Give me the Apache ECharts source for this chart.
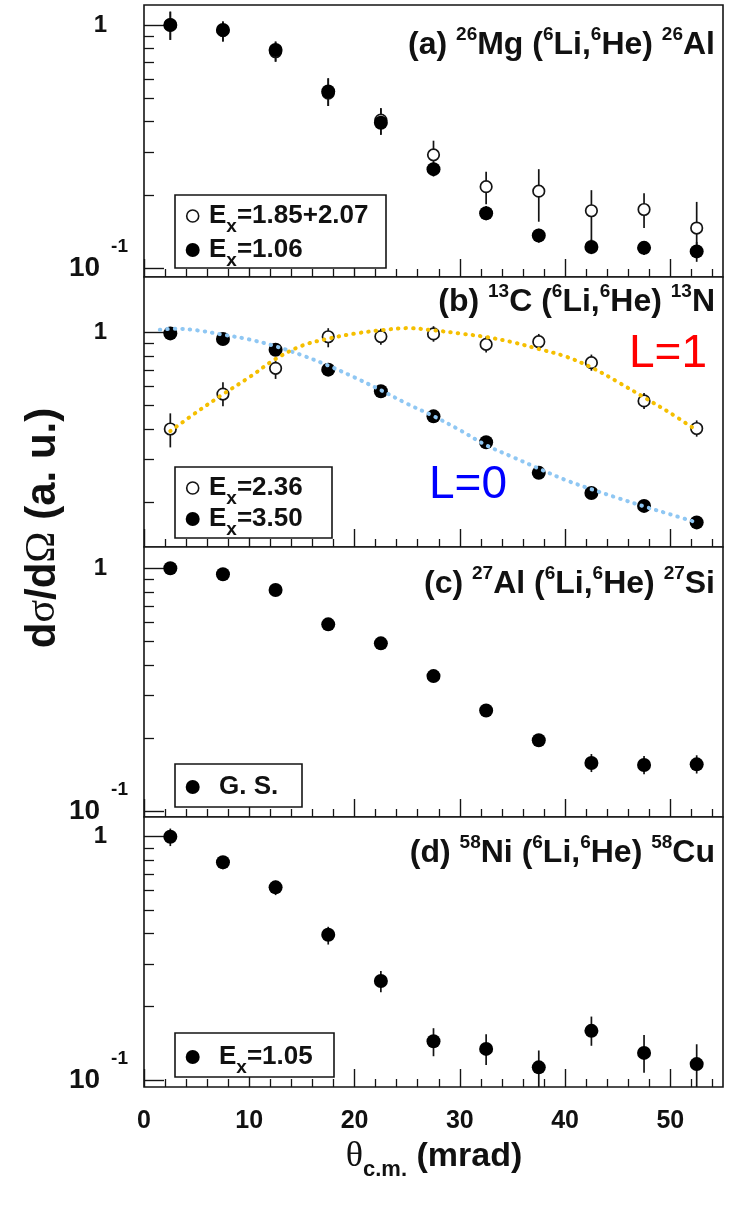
<!DOCTYPE html>
<html>
<head>
<meta charset="utf-8">
<script src="https://cdn.jsdelivr.net/npm/echarts@6/dist/echarts.min.js"></script>
<style>
  html, body { margin: 0; padding: 0; background: #fff; }
  #chart { width: 729px; height: 1206px; }
</style>
</head>
<body>
<div id="chart"></div>
<script>
// Scattering angle of each measured point (mrad)
const theta = [2.5, 7.5, 12.5, 17.5, 22.5, 27.5, 32.5, 37.5, 42.5, 47.5, 52.5];

// (a) 26Mg(6Li,6He)26Al
const mgEx106 = [1.0, 0.954, 0.789, 0.532, 0.396, 0.255, 0.168, 0.136, 0.122, 0.121, 0.117];
const mgEx106Lo = [0.868, 0.854, 0.706, 0.464, 0.353, 0.238, 0.157, 0.127, 0.114, 0.113, 0.106];
const mgEx106Hi = [1.134, 1.032, 0.854, 0.603, 0.454, 0.272, 0.180, 0.145, 0.131, 0.129, 0.128];
const mgEx185 = [1.0, 0.947, 0.776, 0.524, 0.406, 0.292, 0.216, 0.207, 0.172, 0.174, 0.146];
const mgEx185Lo = [0.868, 0.854, 0.706, 0.464, 0.353, 0.257, 0.183, 0.155, 0.130, 0.146, 0.111];
const mgEx185Hi = [1.134, 1.032, 0.854, 0.603, 0.454, 0.334, 0.249, 0.255, 0.209, 0.203, 0.187];

// (b) 13C(6Li,6He)13N
const cEx236 = [0.400, 0.557, 0.711, 0.959, 0.961, 0.985, 0.892, 0.915, 0.750, 0.522, 0.402];
const cEx236Lo = [0.336, 0.496, 0.643, 0.868, 0.890, 0.915, 0.826, 0.850, 0.695, 0.484, 0.372];
const cEx236Hi = [0.464, 0.623, 0.764, 1.040, 1.035, 1.060, 0.962, 0.985, 0.810, 0.563, 0.434];
const cEx350 = [0.990, 0.939, 0.848, 0.702, 0.572, 0.451, 0.353, 0.264, 0.218, 0.193, 0.165];

// Angular-momentum transfer shapes drawn through panel (b): [theta, value]
const curveL0 = [[1.5, 1.025], [3, 1.035], [5, 1.02], [7.5, 0.978], [10, 0.935], [12.5, 0.876],
  [15, 0.805], [17.5, 0.73], [20, 0.652], [22.5, 0.578], [25, 0.508], [27.5, 0.452],
  [30, 0.396], [32.5, 0.343], [35, 0.307], [37.5, 0.275], [40, 0.247], [42.5, 0.226],
  [45, 0.208], [47.5, 0.192], [50, 0.178], [52.5, 0.165]];
const curveL1 = [[2.5, 0.392], [5, 0.469], [7.5, 0.556], [10, 0.653], [12.5, 0.777], [15, 0.881],
  [17.5, 0.942], [20, 0.988], [22.5, 1.02], [25, 1.041], [27.5, 1.02], [30, 0.989],
  [32.5, 0.957], [35, 0.911], [37.5, 0.854], [40, 0.797], [42.5, 0.717], [45, 0.625],
  [47.5, 0.54], [50, 0.465], [52.5, 0.395]];

// (c) 27Al(6Li,6He)27Si
const alGs = [1.0, 0.945, 0.814, 0.588, 0.491, 0.360, 0.260, 0.196, 0.158, 0.155, 0.156];
const alGsLo = [0.95, 0.90, 0.775, 0.56, 0.467, 0.342, 0.247, 0.186, 0.145, 0.142, 0.143];
const alGsHi = [1.05, 0.99, 0.855, 0.617, 0.515, 0.378, 0.273, 0.206, 0.172, 0.169, 0.170];

// (d) 58Ni(6Li,6He)58Cu
const niEx105 = [1.0, 0.785, 0.619, 0.395, 0.255, 0.144, 0.134, 0.1125, 0.159, 0.129, 0.116];
const niEx105Lo = [0.915, 0.735, 0.575, 0.360, 0.229, 0.125, 0.115, 0.093, 0.138, 0.107, 0.092];
const niEx105Hi = [1.08, 0.827, 0.659, 0.426, 0.280, 0.163, 0.154, 0.132, 0.182, 0.153, 0.140];

// Tick positions
const xMajorTicks = [0, 10, 20, 30, 40, 50];
const xMinorTicks = [2, 4, 6, 8, 12, 14, 16, 18, 22, 24, 26, 28, 32, 34, 36, 38, 42, 44, 46, 48, 52, 54];
const yMajorTicks = [0.1, 1];
const yMinorTicks = [0.2, 0.3, 0.4, 0.5, 0.6, 0.7, 0.8, 0.9];

const FONT = 'Liberation Sans';
const INK = '#141414';

// Panel frames (pixel layout) and log ranges
const panels = [
  { top: 5,   height: 272, range: [0.0918, 1.208] },
  { top: 277, height: 270, range: [0.1307, 1.69] },
  { top: 547, height: 270, range: [0.0947, 1.224] },
  { top: 817, height: 270, range: [0.0934, 1.205] }
];

const grids = [], xAxes = [], yAxes = [];
panels.forEach((p, i) => {
  const last = i === panels.length - 1;
  grids.push({
    left: 144, width: 579, top: p.top, height: p.height,
    show: true, borderColor: INK, borderWidth: 1.6, backgroundColor: '#fff'
  });
  xAxes.push({
    type: 'value', gridIndex: i, min: 0, max: 55, position: 'bottom',
    axisLine: { show: false }, splitLine: { show: false },
    axisTick: { show: true, inside: true, length: 18, customValues: xMajorTicks,
      lineStyle: { color: INK, width: 1.4 } },
    axisLabel: last ? {
      show: true, customValues: xMajorTicks, margin: 22,
      fontFamily: FONT, fontWeight: 'bold', fontSize: 25, color: '#111'
    } : { show: false }
  });
  xAxes.push({
    type: 'value', gridIndex: i, min: 0, max: 55, position: 'bottom',
    axisLine: { show: false }, splitLine: { show: false },
    axisTick: { show: true, inside: true, length: 8, customValues: xMinorTicks,
      lineStyle: { color: INK, width: 1.3 } },
    axisLabel: { show: false }
  });
  const majors = yMajorTicks.filter(v => v >= p.range[0] && v <= p.range[1]);
  yAxes.push({
    type: 'log', logBase: 10, gridIndex: i, min: p.range[0], max: p.range[1], position: 'left',
    axisLine: { show: false }, splitLine: { show: false },
    axisTick: { show: true, inside: true, length: 20, customValues: majors,
      lineStyle: { color: INK, width: 1.4 } },
    axisLabel: {
      show: true, customValues: majors, margin: 16,
      formatter: v => (v > 0.5 ? '{one|1}' : '{ten|10}{sup|-1}'),
      rich: {
        one: { fontFamily: FONT, fontWeight: 'bold', fontSize: 24, color: '#111', padding: [0, 21, 0, 0] },
        ten: { fontFamily: FONT, fontWeight: 'bold', fontSize: 28, color: '#111' },
        sup: { fontFamily: FONT, fontWeight: 'bold', fontSize: 19, lineHeight: 19, color: '#111', padding: [0, 0, 43, 11] }
      }
    }
  });
  yAxes.push({
    type: 'log', logBase: 10, gridIndex: i, min: p.range[0], max: p.range[1], position: 'left',
    axisLine: { show: false }, splitLine: { show: false },
    axisTick: { show: true, inside: true, length: 10, customValues: yMinorTicks,
      lineStyle: { color: INK, width: 1.3 } },
    axisLabel: { show: false }
  });
});

const pairs = (ys) => theta.map((x, k) => [x, ys[k]]);

function errorBars(panel, lo, hi) {
  return {
    type: 'custom', xAxisIndex: 2 * panel, yAxisIndex: 2 * panel, z: 2, clip: true,
    data: theta.map((x, k) => [x, lo[k], hi[k]]),
    encode: { x: 0, y: [1, 2] },
    renderItem(params, api) {
      const a = api.coord([api.value(0), api.value(1)]);
      const b = api.coord([api.value(0), api.value(2)]);
      return { type: 'line', shape: { x1: a[0], y1: a[1], x2: b[0], y2: b[1] },
        style: { stroke: INK, lineWidth: 1.7 } };
    }
  };
}
function filled(panel, ys) {
  return { type: 'scatter', xAxisIndex: 2 * panel, yAxisIndex: 2 * panel, z: 4,
    symbol: 'circle', symbolSize: 14, itemStyle: { color: '#000', opacity: 1 }, data: pairs(ys) };
}
function open(panel, ys) {
  return { type: 'scatter', xAxisIndex: 2 * panel, yAxisIndex: 2 * panel, z: 3,
    symbol: 'circle', symbolSize: 11.5,
    itemStyle: { color: '#fff', borderColor: INK, borderWidth: 1.7, opacity: 1 }, data: pairs(ys) };
}
function dotted(panel, pts, color) {
  return { type: 'line', xAxisIndex: 2 * panel, yAxisIndex: 2 * panel, z: 6,
    smooth: 0.35, symbol: 'none', showSymbol: false, data: pts,
    lineStyle: { color, width: 4, type: [0.5, 7], cap: 'round' } };
}

const series = [
  errorBars(0, mgEx185Lo, mgEx185Hi), errorBars(0, mgEx106Lo, mgEx106Hi),
  open(0, mgEx185), filled(0, mgEx106),
  errorBars(1, cEx236Lo, cEx236Hi),
  open(1, cEx236), filled(1, cEx350),
  dotted(1, curveL0, '#8fc7f3'), dotted(1, curveL1, '#f5bf00'),
  errorBars(2, alGsLo, alGsHi), filled(2, alGs),
  errorBars(3, niEx105Lo, niEx105Hi), filled(3, niEx105)
];

// Text styles shared by panel titles and legend entries
const titleRich = {
  n: { fontFamily: FONT, fontWeight: 'bold', fontSize: 32, lineHeight: 34, fill: '#111' },
  s: { fontFamily: FONT, fontWeight: 'bold', fontSize: 19, lineHeight: 19, fill: '#111', padding: [0, 0, 20, 0] }
};
const legRich = {
  n: { fontFamily: FONT, fontWeight: 'bold', fontSize: 26, lineHeight: 30, fill: '#111' },
  sub: { fontFamily: FONT, fontWeight: 'bold', fontSize: 19, lineHeight: 19, fill: '#111', padding: [22, 0, 0, 0] }
};

function title(text, y) {
  return { type: 'text', x: 715, y, z: 20,
    style: { text, rich: titleRich, align: 'right', verticalAlign: 'middle' } };
}
function legendBox(x, y, w, h) {
  return { type: 'rect', z: 15, shape: { x, y, width: w, height: h },
    style: { fill: '#fff', stroke: INK, lineWidth: 1.6 } };
}
function legendMark(x, y, isOpen) {
  return { type: 'circle', z: 16, shape: { cx: x, cy: y, r: isOpen ? 6 : 7 },
    style: isOpen ? { fill: '#fff', stroke: INK, lineWidth: 1.6 } : { fill: '#000' } };
}
function legendText(text, x, y) {
  return { type: 'text', z: 16, x, y,
    style: { text, rich: legRich, align: 'left', verticalAlign: 'middle' } };
}

const graphic = [
  title('{n|(a) }{s|26}{n|Mg (}{s|6}{n|Li,}{s|6}{n|He) }{s|26}{n|Al}', 45),
  title('{n|(b) }{s|13}{n|C (}{s|6}{n|Li,}{s|6}{n|He) }{s|13}{n|N}', 302),
  title('{n|(c) }{s|27}{n|Al (}{s|6}{n|Li,}{s|6}{n|He) }{s|27}{n|Si}', 584),
  title('{n|(d) }{s|58}{n|Ni (}{s|6}{n|Li,}{s|6}{n|He) }{s|58}{n|Cu}', 853),

  legendBox(175, 195, 211, 73),
  legendMark(192.7, 216, true), legendText('{n|E}{sub|x}{n|=1.85+2.07}', 209, 216),
  legendMark(192.7, 250, false), legendText('{n|E}{sub|x}{n|=1.06}', 209, 250),

  legendBox(175, 467, 157, 71),
  legendMark(192.7, 488, true), legendText('{n|E}{sub|x}{n|=2.36}', 209, 488),
  legendMark(192.7, 519, false), legendText('{n|E}{sub|x}{n|=3.50}', 209, 519),

  legendBox(175, 764, 127, 43),
  legendMark(192.7, 787, false), legendText('{n|G. S.}', 219, 787),

  legendBox(175, 1033, 159, 44),
  legendMark(192.7, 1057, false), legendText('{n|E}{sub|x}{n|=1.05}', 219, 1057),

  { type: 'text', z: 20, x: 668, y: 354,
    style: { text: 'L=1', fontFamily: FONT, fontSize: 46, fill: '#ff0000', align: 'center', verticalAlign: 'middle' } },
  { type: 'text', z: 20, x: 468, y: 485,
    style: { text: 'L=0', fontFamily: FONT, fontSize: 46, fill: '#0000ff', align: 'center', verticalAlign: 'middle' } },

  // Shared axis titles
  { type: 'text', z: 20, x: 43, y: 528, rotation: Math.PI / 2,
    style: {
      text: '{b|d}{g|σ}{b|/d}{g|Ω}{b| (a. u.)}', align: 'center', verticalAlign: 'middle',
      rich: {
        b: { fontFamily: FONT, fontWeight: 'bold', fontSize: 42, fill: '#111' },
        g: { fontFamily: 'Liberation Serif', fontSize: 42, fill: '#111' }
      }
    } },
  { type: 'text', z: 20, x: 434, y: 1157,
    style: {
      text: '{t|θ}{c|c.m.}{b| (mrad)}', align: 'center', verticalAlign: 'middle',
      rich: {
        t: { fontFamily: 'Liberation Serif', fontSize: 36, lineHeight: 38, fill: '#111' },
        c: { fontFamily: FONT, fontWeight: 'bold', fontSize: 22, lineHeight: 22, fill: '#111', padding: [26, 0, 0, 0] },
        b: { fontFamily: FONT, fontWeight: 'bold', fontSize: 34, lineHeight: 38, fill: '#111' }
      }
    } }
];

const chart = echarts.init(document.getElementById('chart'), null, { renderer: 'canvas' });
chart.setOption({
  animation: false,
  backgroundColor: '#fff',
  grid: grids,
  xAxis: xAxes,
  yAxis: yAxes,
  series,
  graphic
});
</script>
</body>
</html>
